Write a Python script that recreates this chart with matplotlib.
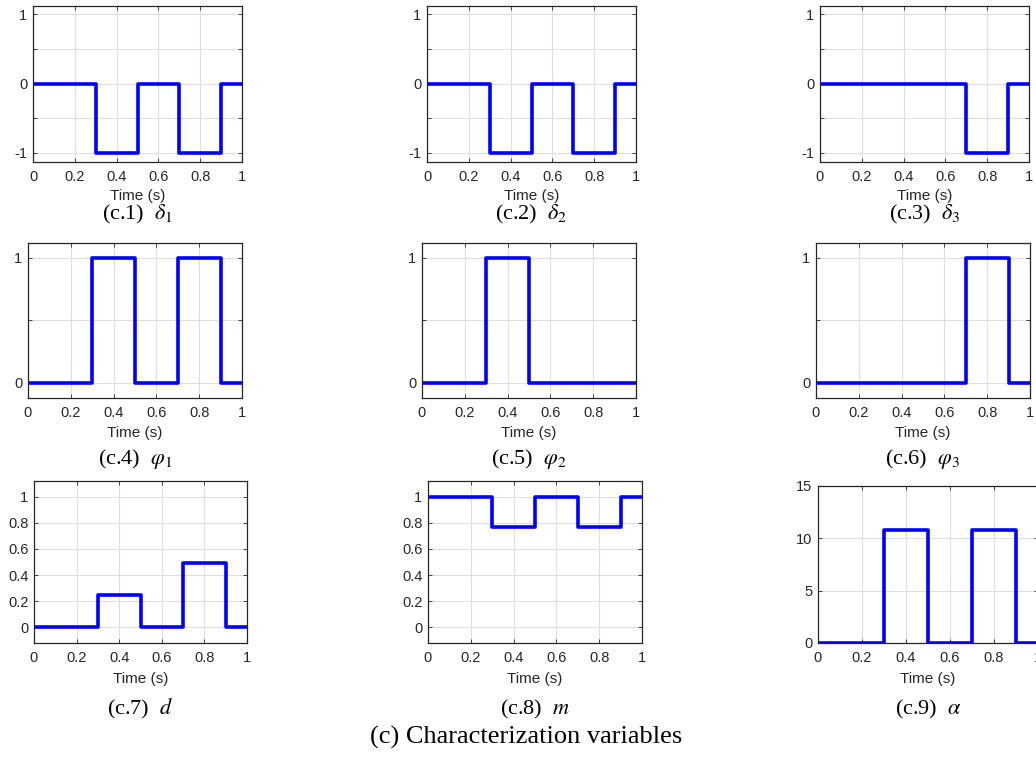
import numpy as np
import matplotlib
matplotlib.use("Agg")
import matplotlib.pyplot as plt

plt.rcParams['font.family'] = ['Liberation Sans', 'DejaVu Sans']
plt.rcParams['mathtext.fontset'] = 'stix'

W, H = 1036, 757

# switching instants (s) and the level held on each interval
t_edges = [0, 0.3, 0.5, 0.7, 0.9, 1.0]

delta1 = [0, -1, 0, -1, 0]
delta2 = [0, -1, 0, -1, 0]
delta3 = [0, 0, 0, -1, 0]
phi1 = [0, 1, 0, 1, 0]
phi2 = [0, 1, 0, 0, 0]
phi3 = [0, 0, 0, 1, 0]
d_vals = [0, 0.245, 0, 0.49, 0]
m_vals = [1, 0.765, 1, 0.77, 1]
alpha_vals = [0, 10.75, 0, 10.75, 0]

captions = [r'(c.1)  $\delta_1$', r'(c.2)  $\delta_2$', r'(c.3)  $\delta_3$',
            r'(c.4)  $\varphi_1$', r'(c.5)  $\varphi_2$', r'(c.6)  $\varphi_3$',
            r'(c.7)  $d$', r'(c.8)  $m$', r'(c.9)  $\alpha$']
series = [delta1, delta2, delta3, phi1, phi2, phi3, d_vals, m_vals, alpha_vals]

x_ticks = [0, 0.2, 0.4, 0.6, 0.8, 1]
x_ticklabels = ['0', '0.2', '0.4', '0.6', '0.8', '1']

# y axis setup per row / panel: (limits, ticks, tick labels)
y_sign = ((-1.13, 1.13), [-1, -0.5, 0, 0.5, 1], ['-1', '', '0', '', '1'])
y_unit = ((-0.12, 1.12), [0, 0.5, 1], ['0', '', '1'])
y_frac = ((-0.12, 1.12), [0, 0.2, 0.4, 0.6, 0.8, 1], ['0', '0.2', '0.4', '0.6', '0.8', '1'])
y_alpha = ((0, 15), [0, 5, 10, 15], ['0', '5', '10', '15'])
y_setup = [y_sign, y_sign, y_sign, y_unit, y_unit, y_unit, y_frac, y_frac, y_alpha]

# axes boxes in pixels: left, top, right, bottom
boxes = [(33, 5.5, 242, 161.5), (427, 5.5, 636, 161.5), (820, 5.5, 1029, 161.5),
         (28, 243, 242, 397.5), (422, 243, 636, 397.5), (816, 243, 1030, 397.5),
         (34, 481, 247, 643), (428, 481, 642, 643), (818, 486, 1038, 643)]
caption_y = [214, 214, 214, 459, 459, 459, 709, 709, 709]
xlabel_pad = [3.5, 3.5, 3.5, 4.5, 4.5, 4.5, 4.5, 4.5, 4.5]

dark = '#262626'

fig = plt.figure(figsize=(W / 100, H / 100), dpi=100)

for i in range(9):
    L, T, R, B = boxes[i]
    ax = fig.add_axes([L / W, 1 - B / H, (R - L) / W, (B - T) / H])
    vals = series[i]
    ax.step(t_edges, vals + [vals[-1]], where='post', color='#0000ff', lw=2.6)

    ylim, yt, ytl = y_setup[i]
    ax.set_xlim(0, 1)
    ax.set_ylim(*ylim)
    ax.set_xticks(x_ticks)
    ax.set_xticklabels(x_ticklabels)
    ax.set_yticks(yt)
    ax.set_yticklabels(ytl)
    ax.grid(True, color='#dedede', lw=0.8)
    ax.set_axisbelow(True)
    ax.tick_params(direction='in', length=3, width=0.6, colors=dark,
                   labelsize=10.5, top=True, right=True)
    ax.tick_params(axis='x', pad=6)
    ax.tick_params(axis='y', pad=4)
    for s in ax.spines.values():
        s.set_color(dark)
        s.set_linewidth(0.9)
    ax.set_xlabel('Time (s)', fontsize=11, color=dark, labelpad=xlabel_pad[i])

    fig.text((L + R) / 2 / W, 1 - caption_y[i] / H, captions[i],
             family='Liberation Serif', fontsize=16, ha='center', va='center')

fig.text(526 / W, 1 - 737.5 / H, '(c) Characterization variables',
         family='Liberation Serif', fontsize=19, ha='center', va='center')

fig.savefig('out.png', dpi=100)
